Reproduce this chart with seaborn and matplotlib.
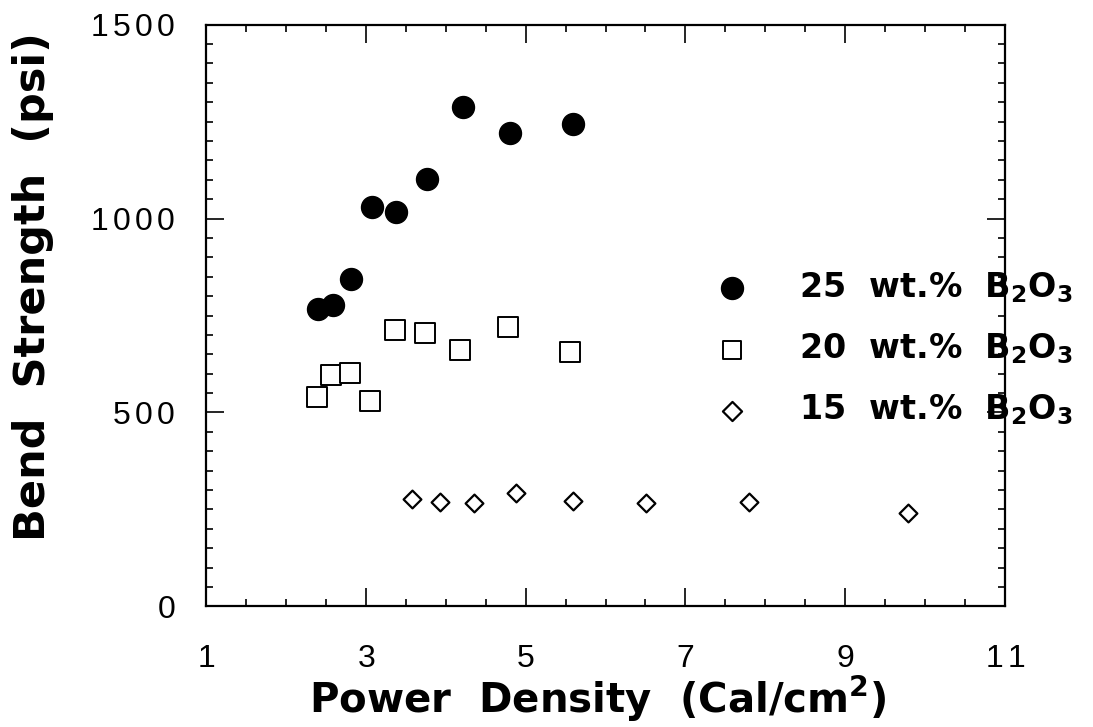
import matplotlib
matplotlib.use("Agg")
import matplotlib.pyplot as plt
from matplotlib.ticker import MultipleLocator, FixedLocator
import seaborn as sns
import pandas as pd

# Bend strength versus power density for three B2O3 contents
x_25 = [2.40, 2.59, 2.81, 3.08, 3.38, 3.76, 4.22, 4.80, 5.59]
y_25 = [766, 777, 843, 1029, 1018, 1102, 1289, 1220, 1244]

x_20 = [2.39, 2.57, 2.80, 3.05, 3.36, 3.74, 4.18, 4.78, 5.56]
y_20 = [539, 596, 603, 530, 713, 704, 661, 721, 657]

x_15 = [3.58, 3.93, 4.35, 4.88, 5.59, 6.51, 7.80, 9.78]
y_15 = [278, 269, 267, 293, 271, 267, 269, 240]

labels = [r"25  wt.%  B$\mathbf{_2}$O$\mathbf{_3}$",
          r"20  wt.%  B$\mathbf{_2}$O$\mathbf{_3}$",
          r"15  wt.%  B$\mathbf{_2}$O$\mathbf{_3}$"]
x_ticks = [1, 3, 5, 7, 9, 11]
y_ticks = [0, 500, 1000, 1500]

sns.set_theme(style="ticks")
plt.rcParams["font.family"] = ["Liberation Sans", "DejaVu Sans"]
plt.rcParams["mathtext.fontset"] = "custom"
plt.rcParams["mathtext.rm"] = "Liberation Sans"
plt.rcParams["mathtext.it"] = "Liberation Sans:italic"
plt.rcParams["mathtext.bf"] = "DejaVu Sans:bold"
plt.rcParams["mathtext.default"] = "rm"
for key in ("text.color", "axes.labelcolor", "xtick.color", "ytick.color", "axes.edgecolor"):
    plt.rcParams[key] = "black"

BOLD = ["DejaVu Sans"]

frames = []
for xs, ys, lab in zip([x_25, x_20, x_15], [y_25, y_20, y_15], labels):
    frames.append(pd.DataFrame({"x": xs, "y": ys, "series": lab}))
df = pd.concat(frames, ignore_index=True)

fig = plt.figure(figsize=(10.93, 7.27), dpi=100)
ax = fig.add_axes([0.1885, 0.166, 0.731, 0.800])

styles = {
    labels[0]: dict(marker="o", s=250, facecolor="black", edgecolor="black", linewidth=1.0),
    labels[1]: dict(marker="s", s=190, facecolor="white", edgecolor="black", linewidth=1.4),
    labels[2]: dict(marker="D", s=82, facecolor="white", edgecolor="black", linewidth=1.6),
}
for lab in labels:
    sub = df[df["series"] == lab]
    sns.scatterplot(data=sub, x="x", y="y", ax=ax, label=lab, **styles[lab])


def spaced(v):
    # digits set with a thin gap between them
    return "$" + r"\,".join(str(v)) + "$"


ax.set_xlim(1, 11)
ax.set_ylim(0, 1500)
ax.xaxis.set_major_locator(FixedLocator(x_ticks))
ax.xaxis.set_minor_locator(MultipleLocator(0.5))
ax.yaxis.set_major_locator(FixedLocator(y_ticks))
ax.yaxis.set_minor_locator(MultipleLocator(50))
ax.set_xticklabels([spaced(v) for v in x_ticks])
ax.set_yticklabels([spaced(v) for v in y_ticks])

ax.tick_params(axis="both", which="both", direction="in", top=True, right=True,
               colors="black", width=1.2)
ax.tick_params(axis="both", which="major", length=13, labelsize=23)
ax.tick_params(axis="both", which="minor", length=5)
ax.tick_params(axis="x", which="major", pad=27)
ax.tick_params(axis="y", which="major", pad=22)
for sp in ax.spines.values():
    sp.set_linewidth(1.6)
    sp.set_color("black")

ax.set_xlabel(r"Power  Density  (Cal/cm$\mathbf{^2}$)", fontsize=29, fontweight="bold", family=BOLD)
ax.set_ylabel("Bend  Strength  (psi)", fontsize=31, fontweight="bold", family=BOLD)
ax.xaxis.set_label_coords(0.49, -0.117)
ax.yaxis.set_label_coords(-0.19, 0.55)

leg = ax.legend(loc="upper left", bbox_to_anchor=(0.60, 0.63), frameon=False,
                prop={"size": 24, "weight": "bold", "family": BOLD}, handletextpad=1.5,
                labelspacing=0.8, markerscale=1.0, handlelength=1.0)
for h, s in zip(leg.legend_handles, [250, 170, 95]):
    h.set_sizes([s])

fig.savefig("out.png", dpi=100, facecolor="white")
